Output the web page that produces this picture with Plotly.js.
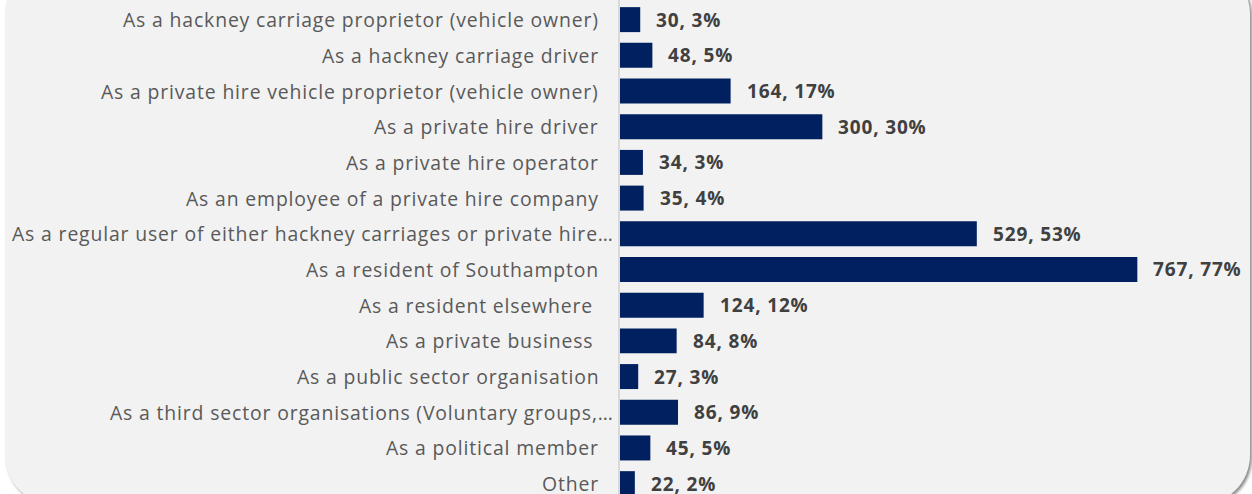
<!DOCTYPE html>
<html>
<head>
<meta charset="utf-8">
<script src="https://cdn.plot.ly/plotly-3.0.1.min.js"></script>
<style>
  html, body { margin: 0; padding: 0; background: #ffffff; width: 1252px; height: 494px; overflow: hidden; }
  #panel { position: absolute; left: 5px; top: -36px; width: 1245px; height: 541px; background: #f2f2f2; border-radius: 50px; box-shadow: 2px 2px 3px rgba(0,0,0,0.45); }
  #chart { position: absolute; left: 0; top: 0; width: 1252px; height: 494px; }
  text.annotation-text { letter-spacing: 0.85px; }
</style>
</head>
<body>
<div id="panel"></div>
<div id="chart"></div>
<script>
const categories = [
  "As a hackney carriage proprietor (vehicle owner)",
  "As a hackney carriage driver",
  "As a private hire vehicle proprietor (vehicle owner)",
  "As a private hire driver",
  "As a private hire operator",
  "As an employee of a private hire company",
  "As a regular user of either hackney carriages or private hire…",
  "As a resident of Southampton",
  "As a resident elsewhere\u00a0",
  "As a private business\u00a0",
  "As a public sector organisation",
  "As a third sector organisations (Voluntary groups,…",
  "As a political member",
  "Other"
];
const counts = [30, 48, 164, 300, 34, 35, 529, 767, 124, 84, 27, 86, 45, 22];
const percents = [3, 5, 17, 30, 3, 4, 53, 77, 12, 8, 3, 9, 5, 2];

const labels = counts.map((c, i) => c + ", " + percents[i] + "%");

const trace = {
  type: "bar",
  orientation: "h",
  x: counts,
  y: categories,
  marker: { color: "#002060" },
  hoverinfo: "none"
};

const valueAnnotations = counts.map((c, i) => ({
  x: c, y: categories[i], xref: "x", yref: "y",
  text: labels[i], showarrow: false,
  xanchor: "left", yanchor: "middle", xshift: 14,
  font: { family: "Open Sans", size: 19, color: "#404040", weight: 700 }
}));

// category labels; truncated (ellipsis) labels overflow to the right as in the source
const categoryAnnotations = categories.map((c) => ({
  x: 0, y: c, xref: "paper", yref: "y",
  text: c, showarrow: false,
  xanchor: "right", yanchor: "middle",
  xshift: c.endsWith("…") ? -4 : -19,
  font: { family: "Open Sans", size: 19.4, color: "#595959" }
}));

const layout = {
  width: 1252, height: 494,
  margin: { l: 620, r: 0, t: 0, b: 0, pad: 0 },
  paper_bgcolor: "rgba(0,0,0,0)",
  plot_bgcolor: "rgba(0,0,0,0)",
  bargap: 0.3,
  showlegend: false,
  xaxis: { range: [0, 937], visible: false, fixedrange: true },
  yaxis: {
    type: "category",
    range: [13.29, -0.55],
    automargin: false,
    showline: true, linecolor: "#d9d9d9", linewidth: 2,
    showgrid: false, zeroline: false,
    ticks: "", showticklabels: false
  },
  annotations: categoryAnnotations.concat(valueAnnotations)
};

Plotly.newPlot("chart", [trace], layout, { displayModeBar: false, staticPlot: true });
</script>
</body>
</html>
